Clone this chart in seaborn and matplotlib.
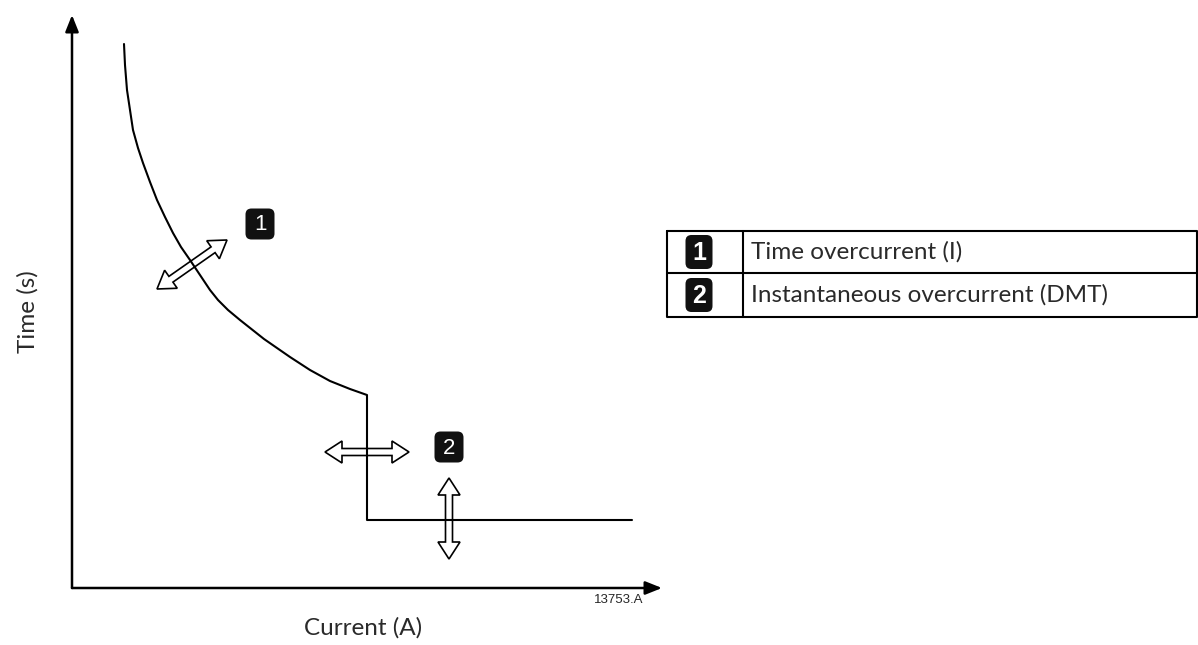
import matplotlib
matplotlib.use("Agg")
import matplotlib.pyplot as plt
from matplotlib.patches import Polygon, FancyBboxPatch
import numpy as np
import pandas as pd
import seaborn as sns

# Trip curve (arbitrary units, the drawing has no scale)
current = [52, 53, 55, 58, 61, 66, 71, 78, 85, 93, 101, 109, 118, 128, 138, 146,
           156, 168, 192, 218, 238, 258, 278, 295, 295, 560]
time_s = [544, 523, 498, 478, 458, 440, 425, 406, 388, 371, 355, 341, 328, 313, 298,
          288, 278, 268, 249, 231, 218, 207, 199, 193, 68, 68]

legend_keys = ["1", "2"]
legend_texts = ["Time overcurrent (I)", "Instantaneous overcurrent (DMT)"]

sns.set_style("white")
plt.rcParams['font.family'] = ['Lato', 'DejaVu Sans']

W, H = 1198, 645
fig = plt.figure(figsize=(W / 100, H / 100), dpi=100)

# main axes: origin at the arrow corner
ax = fig.add_axes([72 / W, 1 - 588 / H, (662 - 72) / W, (588 - 15) / H])
df = pd.DataFrame({"current": current, "time": time_s})
sns.lineplot(data=df, x="current", y="time", sort=False, estimator=None,
             color="black", linewidth=1.5, ax=ax)
ax.set_xlim(0, 590)
ax.set_ylim(0, 573)
for s in ax.spines.values():
    s.set_visible(False)
ax.set_xticks([])
ax.set_yticks([])
ax.set_xlabel("")
ax.set_ylabel("")
arrow_kw = dict(arrowstyle="-|>,head_length=1.0,head_width=0.4", color="black", lw=1.8,
                shrinkA=0, shrinkB=0)
ax.annotate("", xy=(1, 0), xytext=(0, 0), xycoords="axes fraction",
            arrowprops=arrow_kw, annotation_clip=False)
ax.annotate("", xy=(0, 1), xytext=(0, 0), xycoords="axes fraction",
            arrowprops=arrow_kw, annotation_clip=False)

# overlay in pixel units for the labels and decorations
ov = fig.add_axes([0, 0, 1, 1], facecolor="none")
ov.set_xlim(0, W)
ov.set_ylim(H, 0)
ov.axis("off")


def double_arrow(p0, p1, sw=7, hw=22, hl=17):
    p0 = np.array(p0, float)
    p1 = np.array(p1, float)
    u = (p1 - p0) / np.linalg.norm(p1 - p0)
    n = np.array([-u[1], u[0]])
    pts = [p0,
           p0 + u * hl + n * hw / 2, p0 + u * hl + n * sw / 2,
           p1 - u * hl + n * sw / 2, p1 - u * hl + n * hw / 2,
           p1,
           p1 - u * hl - n * hw / 2, p1 - u * hl - n * sw / 2,
           p0 + u * hl - n * sw / 2, p0 + u * hl - n * hw / 2]
    ov.add_patch(Polygon(pts, closed=True, fill=False, edgecolor="black", lw=1.2))


def badge(cx, cy, label, w=29, h=31, bold=False, size=16):
    ov.add_patch(FancyBboxPatch((cx - w / 2, cy - h / 2), w, h,
                                boxstyle="round,pad=0,rounding_size=6",
                                facecolor="#111111", edgecolor="none"))
    ov.text(cx, cy + 1, label, color="white", ha="center", va="center",
            fontsize=size, family="Liberation Sans",
            fontweight="bold" if bold else "normal")


double_arrow((157, 289), (227, 240))
double_arrow((325, 452), (409, 452))
double_arrow((449, 478), (449, 559))
badge(260, 224, legend_keys[0])
badge(449, 447, legend_keys[1])

# legend table
lw_t = 1.5
ov.plot([667, 1197, 1197, 667, 667], [231, 231, 317, 317, 231], color="black", lw=lw_t)
ov.plot([667, 1197], [273, 273], color="black", lw=lw_t)
ov.plot([743, 743], [231, 317], color="black", lw=lw_t)
rows_y = [252, 295]
for key, txt, yy in zip(legend_keys, legend_texts, rows_y):
    badge(699, yy, key, w=27, h=34, bold=True, size=18)
    ov.text(751, yy, txt, ha="left", va="center", fontsize=17.5, color="#2a2a2a")

ov.text(363, 628, "Current (A)", ha="center", va="center", fontsize=17.5,
        color="#2a2a2a")
ov.text(28, 312, "Time (s)", ha="center", va="center", rotation=90, fontsize=17.5,
        color="#2a2a2a")
ov.text(643, 600, "13753.A", ha="right", va="center", fontsize=9.5,
        family="Liberation Sans")

fig.savefig("out.png", dpi=100)
